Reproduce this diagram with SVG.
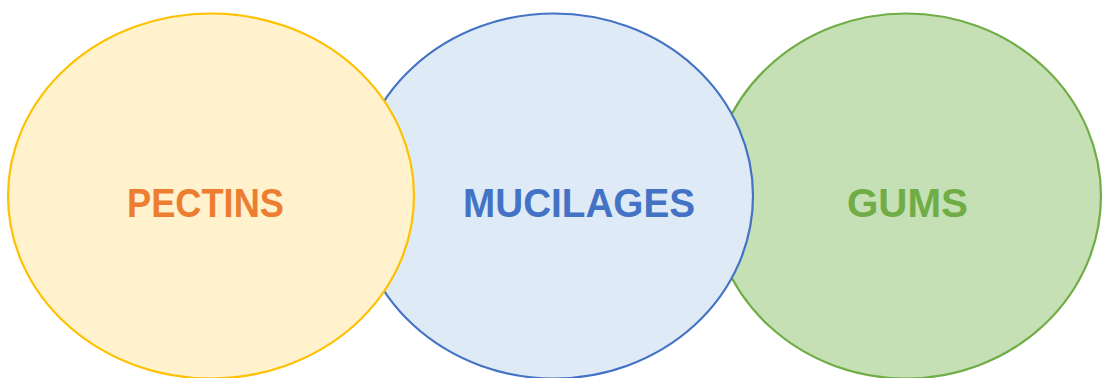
<svg xmlns="http://www.w3.org/2000/svg" width="1103" height="378" viewBox="0 0 1103 378">
<style>
.lbl{font-family:"Liberation Sans",Arial,sans-serif;font-weight:bold;font-size:40.5px;text-anchor:middle}
.e{stroke-width:2.2}
</style>
<rect width="1103" height="378" fill="#FFFFFF"/>
<g id="gums">
<ellipse class="e" cx="906" cy="196" rx="195" ry="182.5" fill="#C5E0B4" stroke="#70AD47"/>
<text class="lbl" x="907.5" y="217" fill="#70AD47" textLength="121" lengthAdjust="spacingAndGlyphs">GUMS</text>
</g>
<g id="mucilages">
<ellipse class="e" cx="554" cy="196" rx="199" ry="182.5" fill="#DEEBF7" stroke="#4472C4"/>
<text class="lbl" x="579" y="217" fill="#4472C4" textLength="232" lengthAdjust="spacingAndGlyphs">MUCILAGES</text>
</g>
<g id="pectins">
<ellipse class="e" cx="211" cy="196" rx="203" ry="182.5" fill="#FFF2CC" stroke="#FFC000"/>
<text class="lbl" x="205.5" y="217" fill="#ED7D31" textLength="157" lengthAdjust="spacingAndGlyphs">PECTINS</text>
</g>
<g id="connectors"/>
</svg>
